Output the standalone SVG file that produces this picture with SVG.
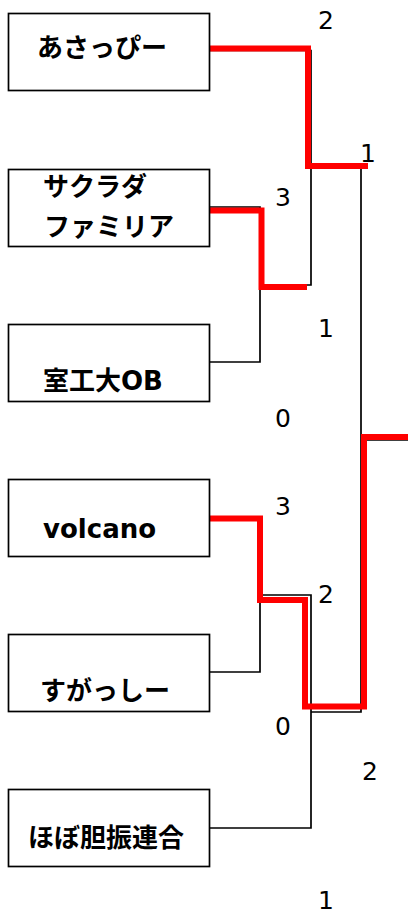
<svg xmlns="http://www.w3.org/2000/svg" width="408" height="915" viewBox="0 0 408 915">
<style>
.box{fill:#fff;stroke:#000;stroke-width:1.7}
.lbl{font-family:"DejaVu Sans","Noto Sans CJK JP",sans-serif;font-weight:bold;font-size:26px;fill:#000}
.sc{font-family:"DejaVu Sans","Noto Sans CJK JP",sans-serif;font-size:25px;fill:#000;text-anchor:middle}
.ln{fill:none;stroke:#000;stroke-width:1.7}
.win{fill:none;stroke:#f00;stroke-width:6}
</style>
<rect width="408" height="915" fill="#fff"/>
<g id="connectors">
<path class="ln" d="M210,50.5H311V285H260"/>
<path class="ln" d="M210,207H260V362H210"/>
<path class="ln" d="M311,167H361V712H311"/>
<path class="ln" d="M361,440H408"/>
<path class="ln" d="M210,518H260V672H210"/>
<path class="ln" d="M260,595H311V828H210"/>
<path class="win" d="M210,48.5H308V166H368"/>
<path class="win" d="M208,210.5H261.5V287H307"/>
<path class="win" d="M208,518.5H260V600H305V706.5H364V437H408"/>
</g>
<g id="team1"><rect class="box" x="8.5" y="13.5" width="201" height="77"/><text class="lbl" x="37" y="57">あさっぴー</text></g>
<g id="team2"><rect class="box" x="8.5" y="169.5" width="201" height="77"/><text class="lbl" x="43" y="196">サクラダ</text><text class="lbl" x="44" y="236">ファミリア</text></g>
<g id="team3"><rect class="box" x="8.5" y="324.5" width="201" height="77"/><text class="lbl" x="43" y="390">室工大OB</text></g>
<g id="team4"><rect class="box" x="8.5" y="479.5" width="201" height="77"/><text class="lbl" x="43" y="538">volcano</text></g>
<g id="team5"><rect class="box" x="8.5" y="634.5" width="201" height="77"/><text class="lbl" x="40" y="700">すがっしー</text></g>
<g id="team6"><rect class="box" x="8.5" y="789.5" width="201" height="77"/><text class="lbl" x="28" y="847">ほぼ胆振連合</text></g>
<g id="scores">
<text class="sc" x="326" y="29">2</text>
<text class="sc" x="368" y="162">1</text>
<text class="sc" x="283" y="206">3</text>
<text class="sc" x="326" y="337">1</text>
<text class="sc" x="283" y="427">0</text>
<text class="sc" x="283" y="515">3</text>
<text class="sc" x="326" y="603">2</text>
<text class="sc" x="283" y="735">0</text>
<text class="sc" x="370" y="780">2</text>
<text class="sc" x="326" y="909">1</text>
</g>
</svg>
